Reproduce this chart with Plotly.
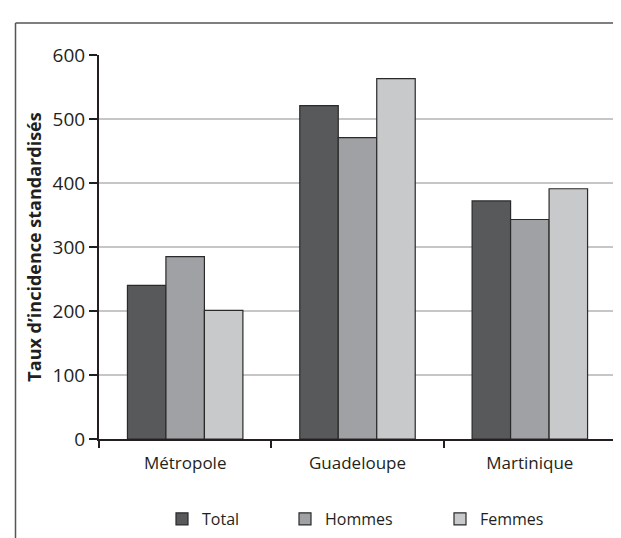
import plotly.graph_objects as go

categories = ["Métropole", "Guadeloupe", "Martinique"]
total = [240, 521, 372]
hommes = [285, 471, 343]
femmes = [201, 563, 391]
series_names = ["Total", "Hommes", "Femmes"]
y_ticks = [0, 100, 200, 300, 400, 500, 600]
y_title = "Taux d’incidence standardisés"

colors = ["#58595b", "#a0a1a4", "#c8c9cb"]
edge = "#2a2a2a"
font_family = "Open Sans, Liberation Sans, sans-serif"

W, H = 621, 538
ML, MR, MT, MB = 91, 13, 47, 107
pw = W - ML - MR
ph = H - MT - MB


def px_x(p):
    return (p - ML) / pw


def px_y(p):
    return (H - MB - p) / ph


legend_ids = ["legend", "legend2", "legend3"]
legend_left_px = [154, 277, 432]

fig = go.Figure()
for name, vals, col, lid in zip(series_names, [total, hommes, femmes], colors, legend_ids):
    fig.add_trace(go.Bar(
        x=categories, y=vals, name=name, legend=lid,
        marker=dict(color=col, line=dict(color=edge, width=1.2)),
    ))

shapes = [
    dict(type="line", xref="paper", yref="paper",
         x0=px_x(7.5), x1=px_x(640), y0=px_y(15), y1=px_y(15),
         line=dict(color="#555555", width=1.5)),
    dict(type="line", xref="paper", yref="paper",
         x0=px_x(7.5), x1=px_x(7.5), y0=px_y(15), y1=px_y(560),
         line=dict(color="#555555", width=1.5)),
]

legend_common = dict(orientation="h", yanchor="middle", y=px_y(511), xanchor="left",
                     font=dict(size=16), itemwidth=30, bgcolor="rgba(0,0,0,0)")

fig.update_layout(
    width=W, height=H,
    margin=dict(l=ML, r=MR, t=MT, b=MB, autoexpand=False),
    paper_bgcolor="white", plot_bgcolor="white",
    barmode="group", bargap=0.33, bargroupgap=0,
    font=dict(family=font_family, color="#231f20", size=16),
    showlegend=True,
    legend=dict(x=px_x(legend_left_px[0]), **legend_common),
    legend2=dict(x=px_x(legend_left_px[1]), **legend_common),
    legend3=dict(x=px_x(legend_left_px[2]), **legend_common),
    shapes=shapes,
    xaxis=dict(
        showline=True, linecolor="#231f20", linewidth=2,
        ticks="outside", tickson="boundaries", ticklen=7, tickwidth=2, tickcolor="#231f20",
        tickfont=dict(size=17), showgrid=False, automargin=False, ticklabelstandoff=8,
    ),
    yaxis=dict(
        range=[0, 600], tickvals=y_ticks, showline=True, linecolor="#231f20", linewidth=2,
        ticks="outside", ticklen=8, tickwidth=2, tickcolor="#231f20",
        tickfont=dict(size=19), showgrid=True, gridcolor="#c6c6c6", gridwidth=1.5,
        zeroline=False, automargin=False,
        title=dict(text=y_title, font=dict(size=18, family="Open Sans", weight="bold"), standoff=6),
    ),
)

fig.write_html("out.html")
